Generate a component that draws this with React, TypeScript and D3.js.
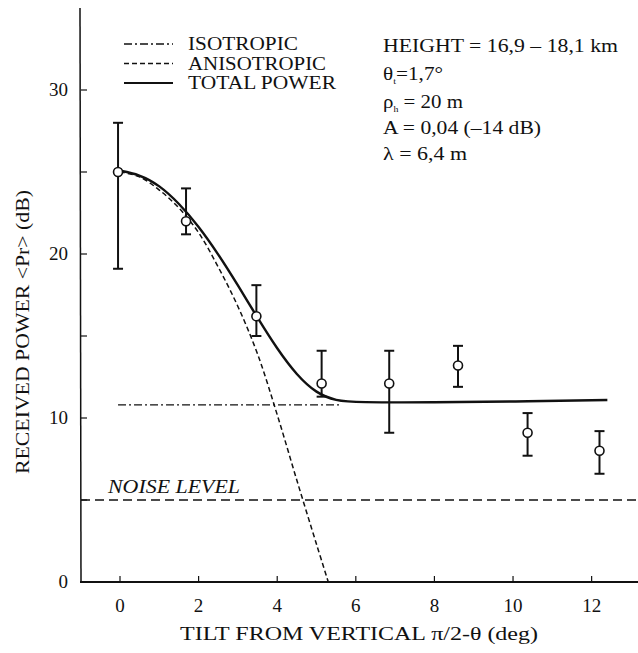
import React from "react";
import * as d3 from "d3";

// measured points: tilt (deg), mean power (dB), error bar low/high (dB)
const tilt = [-0.05, 1.68, 3.47, 5.13, 6.85, 8.6, 10.37, 12.2];
const power = [25.0, 22.0, 16.2, 12.1, 12.1, 13.2, 9.1, 8.0];
const errLow = [19.1, 21.2, 15.0, 11.3, 9.1, 11.9, 7.7, 6.6];
const errHigh = [28.0, 24.0, 18.1, 14.1, 14.1, 14.4, 10.3, 9.2];

// curves
const anisoX = [0, 0.5, 1, 1.5, 2, 2.5, 3, 3.5, 4, 4.5, 5, 5.3];
const anisoY = [25, 24.7, 23.9, 22.8, 21.3, 19.2, 16.8, 13.9, 10.2, 6.2, 2.3, 0];
const totalX = [-0.05, 0.5, 1, 1.5, 2, 2.5, 3, 3.5, 4, 4.5, 5, 5.5, 6, 8, 10, 12.4];
const totalY = [25.1, 24.85, 24.2, 23.1, 21.7, 20.0, 18.1, 16.1, 14.2, 12.6, 11.5, 11.05, 10.95, 10.95, 11.0, 11.1];
const isoX = [-0.05, 5.6];
const isoY = [10.8, 10.8];
const noiseLevel = 5;

const xTicks = [0, 2, 4, 6, 8, 10, 12];
const yTicks = [0, 5, 10, 15, 20, 25, 30];
const yLabels = [0, 10, 20, 30];

const legendNames = ["ISOTROPIC", "ANISOTROPIC", "TOTAL POWER"];
const legendWidths = [110, 138, 148];
const legendDash = ["8,3,2,3", "5,3", ""];

const font = "Liberation Serif";
const ink = "#111";
const digitW = 9.5;

const x = d3.scaleLinear().domain([-1, 13.2]).range([80.7, 638.8]);
const y = d3.scaleLinear().domain([0, 35]).range([582, 8]);

const pairs = (xs: number[], ys: number[]) => xs.map((v, i) => [v, ys[i]] as [number, number]);
const straight = d3.line<[number, number]>().x(d => x(d[0])).y(d => y(d[1]));
const rom = d3.line<[number, number]>().x(d => x(d[0])).y(d => y(d[1])).curve(d3.curveCatmullRom);
const basis = d3.line<[number, number]>().x(d => x(d[0])).y(d => y(d[1])).curve(d3.curveBasis);

export default function App() {
  return (
    <svg width={638} height={653} style={{ position: "absolute", left: 0, top: 0, background: "#fff" }}>
      {/* axes */}
      <line x1={80} x2={81} y1={8} y2={y(0)} stroke={ink} strokeWidth={1.5} />
      <line x1={80} x2={638} y1={y(0)} y2={y(0)} stroke={ink} strokeWidth={2} />
      {yTicks.map(d => (
        <line key={"yt" + d} x1={81} x2={87} y1={y(d)} y2={y(d)} stroke={ink} strokeWidth={1.2} />
      ))}
      {yLabels.map(d => (
        <text key={"yl" + d} x={68 - String(d).length * digitW} y={y(d) + 6}
          textLength={String(d).length * digitW} lengthAdjust="spacingAndGlyphs"
          fontSize={19} style={{ fontFamily: font }} fill={ink}>{d}</text>
      ))}
      {xTicks.map(d => (
        <line key={"xt" + d} x1={x(d)} x2={x(d)} y1={y(0)} y2={y(0) - 6} stroke={ink} strokeWidth={1.2} />
      ))}
      {xTicks.map(d => (
        <text key={"xl" + d} x={x(d) - (String(d).length * digitW) / 2} y={612}
          textLength={String(d).length * digitW} lengthAdjust="spacingAndGlyphs"
          fontSize={19} style={{ fontFamily: font }} fill={ink}>{d}</text>
      ))}
      <text x={180} y={640} textLength={358} lengthAdjust="spacingAndGlyphs" fontSize={19} style={{ fontFamily: font }} fill={ink}>TILT FROM VERTICAL π/2-θ (deg)</text>
      <text transform="translate(29,474) rotate(-90)" textLength={284} lengthAdjust="spacingAndGlyphs" fontSize={19} style={{ fontFamily: font }} fill={ink}>RECEIVED POWER &lt;Pr&gt; (dB)</text>

      {/* noise level */}
      <line x1={81} x2={638} y1={y(noiseLevel)} y2={y(noiseLevel)} stroke={ink} strokeWidth={1.3} strokeDasharray="9,5" />
      <text x={108} y={493} textLength={132} lengthAdjust="spacingAndGlyphs" fontSize={18} fontStyle="italic" style={{ fontFamily: font }} fill={ink}>NOISE LEVEL</text>

      {/* curves */}
      <path d={straight(pairs(isoX, isoY)) ?? ""} fill="none" stroke={ink} strokeWidth={1.3} strokeDasharray={legendDash[0]} />
      <path d={rom(pairs(anisoX, anisoY)) ?? ""} fill="none" stroke={ink} strokeWidth={1.5} strokeDasharray={legendDash[1]} />
      <path d={basis(pairs(totalX, totalY)) ?? ""} fill="none" stroke={ink} strokeWidth={2.4} />

      {/* error bars and points */}
      {tilt.map((t, i) => (
        <g key={"p" + i}>
          <line x1={x(t)} x2={x(t)} y1={y(errLow[i])} y2={y(errHigh[i])} stroke={ink} strokeWidth={2} />
          <line x1={x(t) - 5} x2={x(t) + 5} y1={y(errHigh[i])} y2={y(errHigh[i])} stroke={ink} strokeWidth={2} />
          <line x1={x(t) - 5} x2={x(t) + 5} y1={y(errLow[i])} y2={y(errLow[i])} stroke={ink} strokeWidth={2} />
          <circle cx={x(t)} cy={y(power[i])} r={4.5} fill="#fff" stroke={ink} strokeWidth={1.6} />
        </g>
      ))}

      {/* legend */}
      {legendNames.map((n, i) => (
        <g key={n} transform={`translate(0,${44 + i * 19.5})`}>
          <line x1={124} x2={173} y1={0} y2={0} stroke={ink} strokeWidth={i === 2 ? 2 : 1.3} strokeDasharray={legendDash[i]} />
          <text x={188} y={6} textLength={legendWidths[i]} lengthAdjust="spacingAndGlyphs" fontSize={19} style={{ fontFamily: font }} fill={ink}>{n}</text>
        </g>
      ))}

      {/* parameters */}
      <g fontSize={19} style={{ fontFamily: font }} fill={ink}>
        <text x={383} y={52} textLength={235} lengthAdjust="spacingAndGlyphs" style={{ fontFamily: font }}>HEIGHT = 16,9 – 18,1 km</text>
        <text x={383} y={80} textLength={60} lengthAdjust="spacingAndGlyphs" style={{ fontFamily: font }}>
          θ<tspan dy={4} fontSize={9}>t</tspan><tspan dy={-4}>=1,7°</tspan>
        </text>
        <text x={383} y={108} textLength={80} lengthAdjust="spacingAndGlyphs" style={{ fontFamily: font }}>
          ρ<tspan dy={4} fontSize={9}>h</tspan><tspan dy={-4}> = 20 m</tspan>
        </text>
        <text x={383} y={134} textLength={158} lengthAdjust="spacingAndGlyphs" style={{ fontFamily: font }}>A = 0,04 (–14 dB)</text>
        <text x={383} y={160} textLength={84} lengthAdjust="spacingAndGlyphs" style={{ fontFamily: font }}>λ = 6,4 m</text>
      </g>
    </svg>
  );
}
